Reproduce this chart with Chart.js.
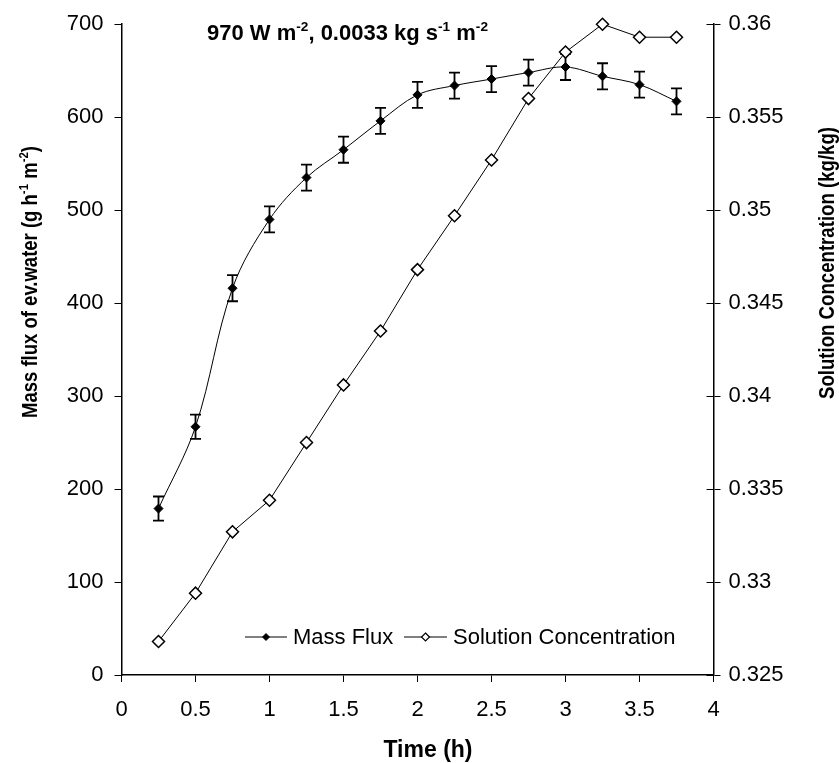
<!DOCTYPE html>
<html>
<head>
<meta charset="utf-8">
<script src="https://cdn.jsdelivr.net/npm/chart.js@4"></script>
<style>
  html, body { margin: 0; padding: 0; background: #fff; }
  #wrap { width: 839px; height: 763px; }
</style>
</head>
<body>
<div id="wrap"><canvas id="chart"></canvas></div>
<script>
// data
const times = [0.25, 0.5, 0.75, 1, 1.25, 1.5, 1.75, 2, 2.25, 2.5, 2.75, 3, 3.25, 3.5, 3.75];
const massFlux = [179, 267, 416, 490, 535, 565, 596, 624, 634, 641, 648, 654, 644, 635, 617];
const massFluxErr = [13, 13, 14, 14, 14, 14, 14, 14, 14, 14, 14, 14, 14, 14, 14];
const concentration = [0.3268, 0.3294, 0.3327, 0.3344, 0.3375, 0.3406, 0.3435, 0.3468,
  0.3497, 0.3527, 0.3560, 0.3585, 0.3600, 0.3593, 0.3593];

const timeTicks = [0, 0.5, 1, 1.5, 2, 2.5, 3, 3.5, 4];
const fluxTicks = [0, 100, 200, 300, 400, 500, 600, 700];
const concTicks = [0.325, 0.33, 0.335, 0.34, 0.345, 0.35, 0.355, 0.36];

const FONT = '"Liberation Sans", Arial, sans-serif';
Chart.defaults.font.family = FONT;
Chart.defaults.color = '#000';

// text with superscripts, parts = [[text, isSup], ...]
function richWidth(ctx, parts, size) {
  let w = 0;
  parts.forEach(p => {
    ctx.font = 'bold ' + (p[1] ? size * 0.62 : size) + 'px ' + FONT;
    w += ctx.measureText(p[0]).width;
  });
  return w;
}
function drawRich(ctx, parts, cx, y, size) {
  let x = cx - richWidth(ctx, parts, size) / 2;
  ctx.textAlign = 'left';
  ctx.textBaseline = 'alphabetic';
  parts.forEach(p => {
    const s = p[1] ? size * 0.62 : size;
    ctx.font = 'bold ' + s + 'px ' + FONT;
    ctx.fillText(p[0], x, p[1] ? y - size * 0.42 : y);
    x += ctx.measureText(p[0]).width;
  });
}
// rotated axis title, squeezed along its length like the original
function drawVertical(ctx, parts, x, y, size, len) {
  ctx.save();
  ctx.translate(x, y);
  ctx.rotate(-Math.PI / 2);
  ctx.scale(len / richWidth(ctx, parts, size), 1);
  drawRich(ctx, parts, 0, 0, size);
  ctx.restore();
}

function diamond(ctx, x, y, r, fill) {
  ctx.beginPath();
  ctx.moveTo(x, y - r); ctx.lineTo(x + r, y); ctx.lineTo(x, y + r); ctx.lineTo(x - r, y);
  ctx.closePath();
  ctx.fillStyle = fill;
  ctx.fill();
  ctx.stroke();
}

const extras = {
  id: 'extras',
  beforeDatasetsDraw(chart) {
    // error bars for mass flux
    const ctx = chart.ctx, xs = chart.scales.x, ys = chart.scales.y;
    ctx.save();
    ctx.strokeStyle = '#000';
    ctx.lineWidth = 1.8;
    times.forEach((t, i) => {
      const px = xs.getPixelForValue(t);
      const top = ys.getPixelForValue(massFlux[i] + massFluxErr[i]);
      const bot = ys.getPixelForValue(massFlux[i] - massFluxErr[i]);
      ctx.beginPath();
      ctx.moveTo(px, top); ctx.lineTo(px, bot);
      ctx.moveTo(px - 5.5, top); ctx.lineTo(px + 5.5, top);
      ctx.moveTo(px - 5.5, bot); ctx.lineTo(px + 5.5, bot);
      ctx.stroke();
    });
    ctx.restore();
  },
  afterDraw(chart) {
    const ctx = chart.ctx, area = chart.chartArea;
    ctx.save();
    ctx.fillStyle = '#000';
    ctx.strokeStyle = '#000';

    // inner half of the right axis ticks
    const y1 = chart.scales.y1;
    ctx.lineWidth = 1;
    concTicks.forEach(v => {
      const py = Math.round(y1.getPixelForValue(v)) + 0.5;
      ctx.beginPath();
      ctx.moveTo(area.right - 7, py); ctx.lineTo(area.right, py);
      ctx.stroke();
    });

    // title inside plot
    drawRich(ctx, [['970 W m'], ['-2', 1], [', 0.0033 kg s'], ['-1', 1], [' m'], ['-2', 1]], 347.5, 40, 22);

    // x title
    drawRich(ctx, [['Time (h)']], 428, 757, 23);

    // y titles
    drawVertical(ctx, [['Mass flux of ev.water (g h'], ['-1', 1], [' m'], ['-2', 1], [')']], 37, 282, 22, 272);
    drawVertical(ctx, [['Solution Concentration (kg/kg)']], 834, 263, 22, 272);

    // legend
    const ly = 637;
    ctx.lineWidth = 1;
    ctx.beginPath();
    ctx.moveTo(245, ly); ctx.lineTo(287, ly);
    ctx.moveTo(404, ly); ctx.lineTo(447, ly);
    ctx.stroke();
    diamond(ctx, 266, ly, 3.5, '#000');
    ctx.lineWidth = 1.2;
    diamond(ctx, 425.5, ly, 4, '#fff');
    ctx.fillStyle = '#000';
    ctx.font = '22px ' + FONT;
    ctx.textAlign = 'left';
    ctx.textBaseline = 'middle';
    ctx.fillText('Mass Flux', 293, ly + 1);
    ctx.fillText('Solution Concentration', 453, ly + 1);
    ctx.restore();
  }
};

const tickFont = { size: 22 };

new Chart(document.getElementById('chart'), {
  type: 'line',
  data: {
    datasets: [
      {
        label: 'Mass Flux',
        data: times.map((t, i) => ({ x: t, y: massFlux[i] })),
        yAxisID: 'y',
        borderColor: '#000',
        borderWidth: 1,
        backgroundColor: '#000',
        pointStyle: 'rectRot',
        pointRadius: 4.5,
        pointBorderWidth: 1,
        tension: 0.35,
        clip: false
      },
      {
        label: 'Solution Concentration',
        data: times.map((t, i) => ({ x: t, y: concentration[i] })),
        yAxisID: 'y1',
        borderColor: '#000',
        borderWidth: 1,
        backgroundColor: '#fff',
        pointStyle: 'rectRot',
        pointRadius: 6,
        pointBorderWidth: 1.5,
        tension: 0,
        clip: false
      }
    ]
  },
  options: {
    responsive: true,
    maintainAspectRatio: false,
    animation: false,
    layout: { padding: { top: 21, left: 0, right: 0, bottom: 0 } },
    plugins: { legend: { display: false }, tooltip: { enabled: false } },
    scales: {
      x: {
        type: 'linear',
        min: 0, max: 4,
        afterBuildTicks: s => { s.ticks = timeTicks.map(v => ({ value: v })); },
        afterFit: s => { s.height = 88; },
        ticks: { font: tickFont, padding: 15, autoSkip: false, maxRotation: 0, callback: v => String(v) },
        grid: { drawOnChartArea: false, tickLength: 7, color: '#000', lineWidth: 1 },
        border: { color: '#000', width: 1.5 }
      },
      y: {
        position: 'left',
        min: 0, max: 700,
        afterBuildTicks: s => { s.ticks = fluxTicks.map(v => ({ value: v })); },
        afterFit: s => { s.width = 121.5; },
        ticks: { font: tickFont, padding: 11, callback: v => String(v) },
        grid: { drawOnChartArea: false, tickLength: 7, color: '#000', lineWidth: 1 },
        border: { color: '#000', width: 1.5 }
      },
      y1: {
        position: 'right',
        min: 0.325, max: 0.36,
        afterBuildTicks: s => { s.ticks = concTicks.map(v => ({ value: v })); },
        afterFit: s => { s.width = 125.5; },
        ticks: { font: tickFont, padding: 8, callback: v => String(v) },
        grid: { drawOnChartArea: false, tickLength: 7, color: '#000', lineWidth: 1 },
        border: { color: '#000', width: 1.5 }
      }
    }
  },
  plugins: [extras]
});
</script>
</body>
</html>
